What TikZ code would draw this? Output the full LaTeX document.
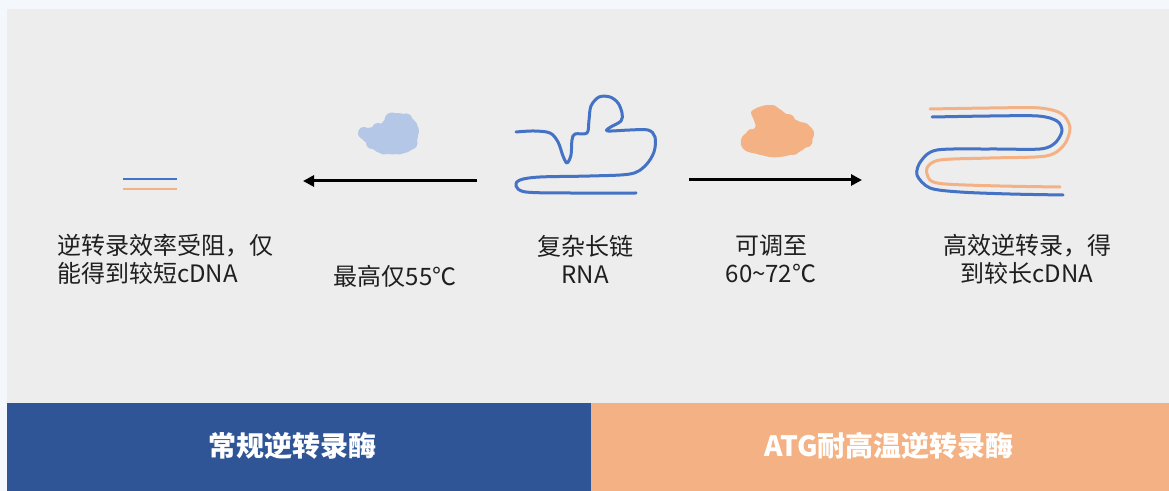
\documentclass[tikz,border=0pt]{standalone}
\usepackage{fontspec}
\newfontfamily\cjk{Noto Sans CJK SC}
\usetikzlibrary{arrows.meta}
\definecolor{panel}{HTML}{EDEDED}
\definecolor{edge}{HTML}{F4F8FC}
\definecolor{navy}{HTML}{2F5597}
\definecolor{peach}{HTML}{F4B183}
\definecolor{strand}{HTML}{4472C4}
\definecolor{cloud}{HTML}{B4C7E7}
\tikzset{
  label/.style={font=\cjk\fontsize{24bp}{28bp}\selectfont, text=black!88, inner sep=0pt, align=center},
  bartext/.style={font=\cjk\bfseries\fontsize{28bp}{32bp}\selectfont, text=white, inner sep=0pt},
  bluestrand/.style={draw=strand, line width=3bp, line cap=round, line join=round},
  orangestrand/.style={draw=peach, line width=3bp, line cap=round, line join=round},
  flow/.style={draw=black, line width=3bp, -{Triangle[length=11bp,width=11bp]}},
}
\begin{document}
\begin{tikzpicture}[x=1bp,y=-1bp]
\useasboundingbox (0,0) rectangle (1169,491);
% backdrop and grey panel
\fill[edge] (0,0) rectangle (1169,491);
\fill[panel] (7,9) rectangle (1169,403);
% bottom bars
\fill[navy] (7,403) rectangle (591,491);
\fill[peach] (591,403) rectangle (1169,491);
\node[bartext] (barL) at (292,446) {常规逆转录酶};
\node[bartext] (barR) at (889,446) {ATG耐高温逆转录酶};

% short cDNA (left)
\coordinate (sb1) at (123,179); \coordinate (sb2) at (177,179);
\coordinate (so1) at (123,189); \coordinate (so2) at (177,189);
\draw[draw=strand, line width=2.5bp] (sb1) -- (sb2);
\draw[draw=peach, line width=2.5bp] (so1) -- (so2);

% enzyme clouds: smooth body with a few lobes on the rim
\fill[cloud] plot[smooth cycle, tension=0.7] coordinates {
  (358,133) (364,129) (373,127) (381,124) (388,116) (397,113) (406,115)
  (414,120) (418,127) (418,136) (415,146) (408,152) (398,154) (387,154)
  (377,152) (370,146) (362,139)};
\foreach \p/\r in {(364,133)/6, (378,129)/6, (392,120)/7.5, (406,120)/6.5, (412,131)/7,
                   (411,143)/6.5, (399,148)/6.5, (384,148)/6.5, (372,143)/6}
  \fill[cloud] \p circle (\r);

\fill[peach] plot[smooth cycle, tension=0.65] coordinates {
  (751,112) (757,108) (768,105) (778,108) (785,113) (796,120) (808,125)
  (814,132) (812,140) (807,146) (801,151) (790,155) (780,157) (770,157)
  (757,154) (746,151) (741,145) (742,137) (748,132) (755,128) (755,123)
  (753,118)};
\foreach \p/\r in {(760,113)/6, (772,112)/7, (788,121)/7, (803,130)/7.5, (806,141)/6.5,
                   (793,148)/7, (778,150)/7, (762,148)/7, (749,143)/6.5, (752,135)/6}
  \fill[peach] \p circle (\r);

% complex RNA
\draw[bluestrand] plot[smooth, tension=0.55] coordinates {
  (516,132) (534,131) (550,133) (558,142) (563,156) (567,163) (571,155)
  (572,140) (575,134) (587,133) (589,120) (591,106) (599,97) (610,97)
  (618,103) (622,113) (621,121) (609,128) (608,131) (630,130) (648,130)
  (655,137) (654,152) (645,166) (630,174) (590,176) (540,177) (520,180)
  (516,186) (526,192) (570,193) (636,193)};

% long cDNA (right)
\draw[orangestrand] plot[smooth, tension=0.5] coordinates {
  (930,109) (990,108) (1040,108) (1062,114) (1070,128) (1064,145)
  (1046,156) (990,158) (940,160) (927,168) (930,180) (945,184) (1000,186) (1060,187)};
\draw[bluestrand] plot[smooth, tension=0.5] coordinates {
  (932,117) (990,116) (1038,116) (1057,121) (1062,131) (1055,143)
  (1040,149) (990,149) (937,150) (921,161) (917,175) (930,188) (960,192) (1010,194) (1063,195)};

% reaction arrows
\coordinate (aLs) at (477,181); \coordinate (aLe) at (303,181);
\coordinate (aRs) at (689,180); \coordinate (aRe) at (862,180);
\draw[flow] (aLs) -- (aLe);
\draw[flow] (aRs) -- (aRe);

% captions
\node[label, align=left, anchor=west] (capA) at (57,259) {逆转录效率受阻，仅\\能得到较短cDNA};
\node[label] (capB) at (395,276) {最高仅55℃};
\node[label] (capC) at (585,259) {复杂长链\\RNA};
\node[label] (capD) at (771,259) {可调至\\60\char`~72℃};
\node[label] (capE) at (1027,259) {高效逆转录，得\\到较长cDNA};
\end{tikzpicture}
\end{document}
